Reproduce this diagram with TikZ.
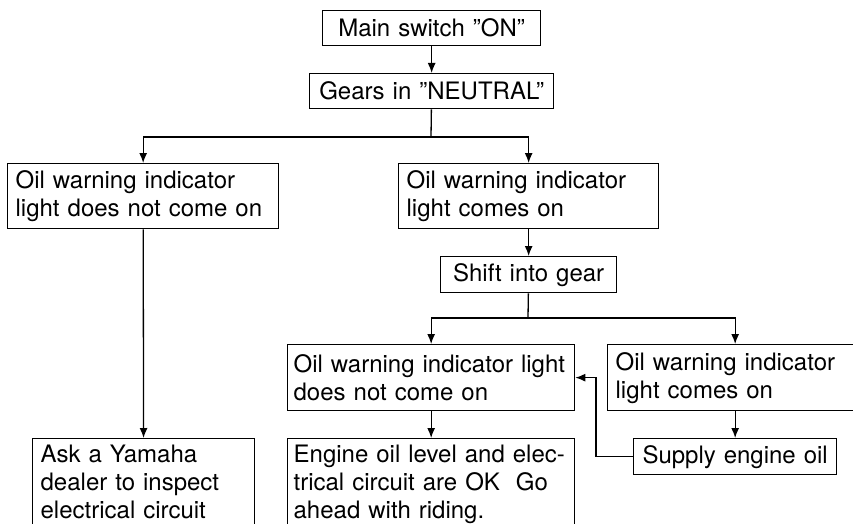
\documentclass[tikz,border=0pt]{standalone}
\usepackage{fontspec}
\setmainfont{TeX Gyre Heros}
\usetikzlibrary{positioning,arrows.meta}

\begin{document}
\begin{tikzpicture}[x=1pt,y=-1pt,line width=1.3pt,>={Latex[length=10pt,width=8pt]},
	box/.style={draw,rectangle,anchor=north west,inner xsep=8pt,inner ysep=6pt,align=left,font=\fontsize{24}{28}\selectfont},
	onebox/.style={box,align=center}]
	\fill[white] (0,0) rectangle (853,524);
	\useasboundingbox (0,0) rectangle (853,524);

	\node[onebox,text width=202pt,minimum height=35pt] (sw) at (322,10) {Main switch ''ON''};
	\node[onebox,text width=228pt,minimum height=35pt] (gears) at (309,73) {Gears in ''NEUTRAL''};
	\node[box,text width=255pt,minimum height=65pt] (offL) at (7,163) {Oil warning indicator\\light does not come on};
	\node[box,text width=244pt,minimum height=65pt] (onR) at (398,163) {Oil warning indicator\\light comes on};
	\node[onebox,text width=160pt,minimum height=36pt] (shift) at (440,256) {Shift into gear};
	\node[box,inner xsep=6pt,text width=275pt,minimum height=66pt] (offA) at (287,344) {Oil warning indicator light\\does not come on};
	\node[box,text width=254pt,minimum height=66pt] (onB) at (607,344) {Oil warning indicator\\light comes on};
	\node[box,inner xsep=6pt,text width=275pt] (engine) at (287,438) {Engine oil level and elec-\\trical circuit are OK\ \ Go\\ahead with riding.};
	\node[onebox,text width=187pt,minimum height=36pt] (supply) at (633,438) {Supply engine oil};
	\node[box,text width=206pt] (dealer) at (32,438) {Ask a Yamaha\\dealer to inspect\\electrical circuit};

	\coordinate (j1) at (431,137);
	\coordinate (j2) at (528,318);

	\draw[->] (sw) -- (gears);
	\draw (gears) -- (j1);
	\draw[->] (j1) -| (offL);
	\draw[->] (j1) -| (onR);
	\draw[->] (offL) -- (dealer);
	\draw[->] (onR) -- (shift);
	\draw (shift) -- (j2);
	\draw[->] (j2) -| (offA);
	\draw[->] (j2) -| (onB.north -| supply);
	\draw[->] (offA) -- (engine);
	\draw[->] (onB.south -| supply) -- (supply);
	\draw[->] (supply.west) -- ++(-37,0) |- (offA);
\end{tikzpicture}
\end{document}
